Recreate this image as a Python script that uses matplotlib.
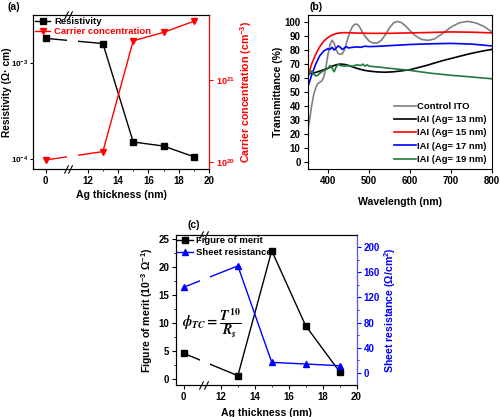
import numpy as np
import matplotlib
matplotlib.use("Agg")
import matplotlib.pyplot as plt
import matplotlib.transforms as mtransforms
from matplotlib.ticker import FixedLocator, NullLocator, MultipleLocator, LogLocator

plt.rcParams['font.family'] = ['Liberation Sans', 'DejaVu Sans']
plt.rcParams['font.weight'] = 'bold'
plt.rcParams['axes.labelweight'] = 'bold'
plt.rcParams['axes.linewidth'] = 0.8
plt.rcParams['xtick.direction'] = 'out'
plt.rcParams['ytick.direction'] = 'out'
plt.rcParams['mathtext.fontset'] = 'custom'
plt.rcParams['mathtext.rm'] = 'Liberation Sans:bold'
plt.rcParams['mathtext.bf'] = 'Liberation Sans:bold'
plt.rcParams['mathtext.it'] = 'Liberation Sans:bold:italic'
plt.rcParams['mathtext.default'] = 'rm'

# ---------------- data ----------------
ag_thickness = [0, 13, 15, 17, 19]
resistivity = [1.81e-3, 1.60e-3, 1.51e-4, 1.37e-4, 1.06e-4]
carrier_conc = [1.06e20, 1.34e20, 3.0e21, 3.8e21, 5.2e21]
figure_of_merit = [4.64, 0.65, 22.96, 9.57, 1.36]
sheet_resistance = [136.3, 170.3, 16.5, 13.9, 11.2]
x_ticks = [0, 12, 14, 16, 18, 20]

wl_ito = [350, 355, 360, 365, 370, 375, 380, 385, 390, 395, 400, 405, 410, 415, 420, 425, 430,
          435, 440, 445, 450, 455, 460, 465, 470, 475, 480, 490, 500, 510, 520, 530, 540, 550,
          560, 570, 580, 590, 600, 610, 620, 630, 645, 660, 680, 700, 720, 740, 760, 780, 800]
t_ito = [22, 30, 40, 48, 53, 56, 57, 58, 61, 68, 77, 84, 87, 85, 80, 77.5, 77,
         77.5, 80, 85, 90, 94, 97, 98.5, 98.5, 97.5, 95, 90, 86.5, 85, 85, 87, 91, 96,
         99.5, 100.5, 99.5, 97, 94, 91, 89, 87.5, 87, 88, 92, 96.5, 99.5, 100.5, 99.5, 97, 93]

wl_13 = [350, 360, 370, 380, 390, 400, 410, 420, 430, 440, 450, 460, 470, 480, 490, 500, 520,
         540, 560, 580, 600, 620, 640, 660, 680, 700, 720, 740, 760, 780, 800]
t_13 = [63, 63.5, 64, 65, 66, 67, 68.5, 69.5, 70, 69.8, 69, 68, 67, 66.2, 65.5, 65, 64.4,
        64.2, 64.5, 65.2, 66, 67.5, 69, 70.8, 72.5, 74, 75.5, 77, 78.3, 79.5, 80.5]

wl_15 = [350, 360, 370, 380, 390, 400, 410, 420, 430, 440, 460, 500, 550, 600, 650, 700, 750, 800]
t_15 = [60, 70, 77, 82.5, 86.5, 89, 90.8, 91.8, 92.3, 92.5, 92.3, 92, 92, 92.3, 92.6, 93, 92.8, 92.3]

wl_17 = [350, 360, 370, 380, 390, 400, 405, 410, 415, 420, 425, 430, 435, 440, 445, 450, 460,
         470, 480, 490, 500, 520, 550, 600, 650, 700, 750, 800]
t_17 = [53, 62, 70, 76, 79.5, 81, 80.5, 82, 80, 81.5, 83, 82, 80.5, 81.5, 82.5, 81.5, 82,
        82.3, 82, 82.8, 82.5, 82.7, 83.2, 84, 84.5, 84.8, 84.3, 83]

wl_19 = [350, 355, 360, 365, 370, 375, 380, 390, 400, 405, 410, 415, 420, 425, 430, 440, 450,
         460, 470, 480, 485, 490, 495, 500, 520, 550, 600, 650, 700, 750, 800]
t_19 = [60, 64, 65, 63, 61.5, 62, 63.5, 65.5, 67, 69, 67, 64.5, 68, 70, 69, 68.5, 69,
        68.5, 69.5, 69, 70, 68.5, 69.5, 68.5, 68, 67, 65.5, 63.5, 62, 60.8, 59.5]

spectra_labels = ['Control ITO', 'IAI (Ag= 13 nm)', 'IAI (Ag= 15 nm)',
                  'IAI (Ag= 17 nm)', 'IAI (Ag= 19 nm)']
spectra_colors = ['#808080', 'black', '#ff0000', '#0000ff', '#217a3c']

FS = 7.0    # tick labels
LFS = 6.8   # legends
AFS = 7.6   # axis labels

fig = plt.figure(figsize=(5.0, 4.17), dpi=100)


def broken_scale(z0):
    """Broken x-axis: 0 is placed at position z0, values >= 12 are linear."""
    k = (12 - z0) / 12.0

    def fwd(x):
        x = np.asarray(x, dtype=float)
        return np.where(x <= 0, x + z0, np.where(x < 12, z0 + x * k, x))

    def inv(p):
        p = np.asarray(p, dtype=float)
        return np.where(p <= z0, p - z0, np.where(p < 12, (p - z0) / k, p))
    return fwd, inv


def add_break(ax, xb):
    trans = mtransforms.blended_transform_factory(ax.transData, ax.transAxes)
    for y in (0, 1):
        for dx in (-1.6, 1.6):
            off = mtransforms.ScaledTranslation(dx / 72, 0, fig.dpi_scale_trans)
            ax.plot([xb], [y], marker=[(-0.5, -1), (0.5, 1)], ms=6, mew=0.8,
                    color='black', transform=trans + off, clip_on=False, zorder=6)


# ---------------- (a) ----------------
axa = fig.add_axes([0.066, 0.5947, 0.352, 0.369])
fwd, inv = broken_scale(9.22)
axa.set_xscale('function', functions=(fwd, inv))
axa.set_yscale('log')
axa.plot(ag_thickness, resistivity, '-s', color='black', ms=4, lw=1.0, label='Resistivity')
axa.set_xlim(-0.83, 20)
axa.set_ylim(7.9e-5, 3.16e-3)
axa.xaxis.set_major_locator(FixedLocator(x_ticks))
axa.xaxis.set_minor_locator(FixedLocator([13, 15, 17, 19]))
axa.yaxis.set_major_locator(LogLocator(base=10, numticks=10))
axa.yaxis.set_minor_locator(NullLocator())
axa.axvspan(6.0, 9.1, color='white', zorder=2.2, lw=0)
axa.set_xlabel('Ag thickness (nm)', fontsize=AFS, labelpad=3)
axa.set_ylabel('Resistivity (Ω· cm)', fontsize=7.3)
axa.yaxis.set_label_coords(-0.118, 0.5)
axa.tick_params(labelsize=FS, length=3, width=0.8, pad=2)
axa.tick_params(axis='y', labelsize=5.8, pad=1, length=2.5)
axa.tick_params(which='minor', length=1.5, width=0.6)

axa2 = axa.twinx()
axa2.set_yscale('log')
axa2.plot(ag_thickness, carrier_conc, '-v', color='#ff0000', ms=4, lw=1.0,
          label='Carrier concentration')
axa2.set_ylim(10 ** 19.915, 10 ** 21.79)
axa2.yaxis.set_minor_locator(NullLocator())
axa2.axvspan(6.0, 9.1, color='white', zorder=2.2, lw=0)
axa2.set_ylabel('Carrier concentration (cm$^{-3}$)', fontsize=AFS, color='#ff0000', labelpad=2)
axa2.tick_params(axis='y', labelsize=6.5, length=3, width=0.8, colors='#ff0000', pad=2)
axa2.spines['right'].set_color('#ff0000')
add_break(axa2, 6.35)

h1, l1 = axa.get_legend_handles_labels()
h2, l2 = axa2.get_legend_handles_labels()
lega = axa2.legend(h1 + h2, l1 + l2, loc='upper left', frameon=False, fontsize=LFS,
                   handlelength=1.6, handletextpad=0.4, labelspacing=0.05,
                   borderaxespad=0.0, borderpad=0.25)
for t, c in zip(lega.get_texts(), ['black', '#ff0000']):
    t.set_color(c)
fig.text(0.016, 0.995, '(a)', fontsize=AFS, va='top', ha='left')

# ---------------- (b) ----------------
axb = fig.add_axes([0.615, 0.5947, 0.369, 0.369])
wls = [wl_ito, wl_13, wl_15, wl_17, wl_19]
ts = [t_ito, t_13, t_15, t_17, t_19]
for w, t, lab, c in zip(wls, ts, spectra_labels, spectra_colors):
    axb.plot(w, t, color=c, lw=1.2, label=lab)
axb.set_xlim(350, 800)
axb.set_ylim(-5, 105)
axb.xaxis.set_major_locator(MultipleLocator(100))
axb.yaxis.set_major_locator(MultipleLocator(10))
axb.set_xlabel('Wavelength (nm)', fontsize=AFS, labelpad=8)
axb.set_ylabel('Transmittance (%)', fontsize=AFS, labelpad=1)
axb.tick_params(labelsize=FS, length=3, width=0.8, pad=2)
axb.legend(loc='lower right', frameon=False, fontsize=LFS, handlelength=2.4,
           handletextpad=0.1, labelspacing=0.45, borderaxespad=0.15)
fig.text(0.618, 0.995, '(b)', fontsize=AFS, va='top', ha='left')

# ---------------- (c) ----------------
axc = fig.add_axes([0.352, 0.0767, 0.361, 0.3597])
fwd_c, inv_c = broken_scale(9.8)
axc.set_xscale('function', functions=(fwd_c, inv_c))
axc.plot(ag_thickness, figure_of_merit, '-s', color='black', ms=4, lw=1.0,
         label='Figure of merit')
axc.set_xlim(-0.45, 20)
axc.set_ylim(-1.02, 25.77)
axc.xaxis.set_major_locator(FixedLocator(x_ticks))
axc.xaxis.set_minor_locator(FixedLocator([13, 15, 17, 19]))
axc.yaxis.set_major_locator(MultipleLocator(5))
axc.yaxis.set_minor_locator(MultipleLocator(2.5))
axc.axvspan(5.35, 8.56, color='white', zorder=2.2, lw=0)
axc.set_xlabel('Ag thickness (nm)', fontsize=AFS, labelpad=4)
axc.set_ylabel('Figure of merit (10$^{-3}$ Ω$^{-1}$)', fontsize=AFS, labelpad=2)
axc.tick_params(labelsize=FS, length=3, width=0.8, pad=2)
axc.tick_params(which='minor', length=1.5, width=0.6)

axc2 = axc.twinx()
axc2.plot(ag_thickness, sheet_resistance, '-^', color='#0000ff', ms=4, lw=1.0,
          label='Sheet resistance')
axc2.set_ylim(-19.6, 219.6)
axc2.yaxis.set_major_locator(MultipleLocator(40))
axc2.yaxis.set_minor_locator(MultipleLocator(20))
axc2.axvspan(5.35, 8.56, color='white', zorder=2.2, lw=0)
axc2.set_ylabel('Sheet resistance (Ω/cm$^{2}$)', fontsize=AFS, color='#0000ff', labelpad=2)
axc2.tick_params(axis='y', labelsize=FS, length=3, width=0.8, colors='#0000ff', pad=2)
axc2.tick_params(axis='y', which='minor', length=1.5, width=0.6, colors='#0000ff')
axc2.spines['right'].set_color('#5555ff')
add_break(axc2, 6.44)
axc2.text(0.035, 0.41,
          r'$\mathit{\phi}_{\mathit{TC}} = \dfrac{\mathit{T}^{10}}{\mathit{R}_{\mathit{s}}}$',
          transform=axc2.transAxes, fontsize=10, fontweight='normal', va='center',
          ha='left', math_fontfamily='stix', zorder=7)

h1, l1 = axc.get_legend_handles_labels()
h2, l2 = axc2.get_legend_handles_labels()
axc2.legend(h1 + h2, l1 + l2, loc='upper left', frameon=False, fontsize=LFS,
            handlelength=1.6, handletextpad=0.4, labelspacing=0.3,
            borderaxespad=0.0, borderpad=0.15)
fig.text(0.374, 0.472, '(c)', fontsize=AFS, va='top', ha='left')

fig.savefig('out.png', dpi=100)
